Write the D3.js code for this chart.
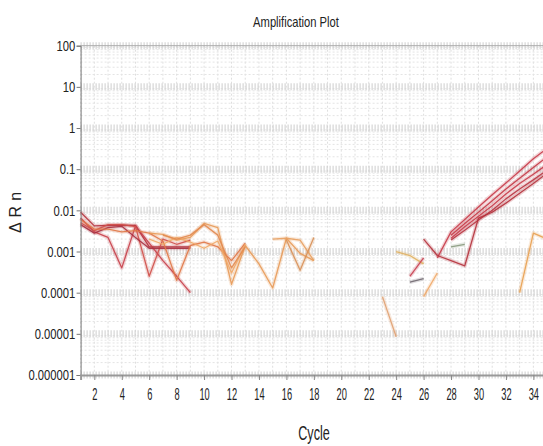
<!DOCTYPE html>
<html>
<head>
<meta charset="utf-8">
<script src="https://cdn.jsdelivr.net/npm/d3@7"></script>
<style>
body { margin: 0; background: #fff; }
svg { display: block; }
text { font-family: "Liberation Sans", Arial, sans-serif; fill: #222; }
</style>
</head>
<body>
<svg id="chart" width="543" height="446"></svg>
<script>
// values, [cycle, deltaRn]
yTicks = [100, 10, 1, 0.1, 0.01, 0.001, 0.0001, 0.00001, 0.000001];
yLabels = ["100", "10", "1", "0.1", "0.01", "0.001", "0.0001", "0.00001", "0.000001"];
xTicks = [2, 4, 6, 8, 10, 12, 14, 16, 18, 20, 22, 24, 26, 28, 30, 32, 34];

// early noisy wells
r1 = [[1, 0.009], [2, 0.0042], [3, 0.0043], [4, 0.0044], [5, 0.0043], [6, 0.0013], [7, 0.0013], [8, 0.0013], [9, 0.0013]];
r2 = [[1, 0.0065], [2, 0.003], [3, 0.0022], [4, 0.0004], [5, 0.0042], [6, 0.0016], [7, 0.0006], [8, 0.00025], [9, 0.0001]];
r3 = [[1, 0.005], [2, 0.0032], [3, 0.0045], [4, 0.0045], [5, 0.004], [6, 0.00025], [7, 0.002], [8, 0.0015], [9, 0.0019]];
r4 = [[1, 0.0045], [2, 0.0028], [3, 0.0038], [4, 0.0041], [5, 0.0022], [6, 0.0012], [7, 0.0012], [8, 0.0012], [9, 0.0012]];
o1 = [[1, 0.006], [2, 0.0035], [3, 0.0035], [4, 0.003], [5, 0.0032], [6, 0.0028], [7, 0.0018], [8, 0.0002], [9, 0.0014], [10, 0.0017], [11, 0.0013], [12, 0.0006], [13, 0.0016]];
o2 = [[6, 0.0028], [7, 0.0026], [8, 0.0019], [9, 0.0022], [10, 0.0048], [11, 0.0038], [12, 0.00016], [13, 0.0014], [14, 0.0005], [15, 0.00013], [16, 0.0021], [17, 0.0009], [18, 0.0006]];
o3 = [[6, 0.002], [7, 0.0015], [8, 0.0022], [9, 0.0017], [10, 0.0012], [11, 0.0018], [12, 0.0003], [13, 0.0015]];
o4 = [[7, 0.0025], [8, 0.002], [9, 0.0025], [10, 0.0045], [11, 0.0025], [12, 0.0004], [13, 0.0013]];
o5 = [[15, 0.002], [16, 0.0021], [17, 0.0019], [18, 0.0006]];
o6 = [[16, 0.0019], [17, 0.00035], [18, 0.0022]];

// middle fragments
m1 = [[23, 0.00008], [24, 0.0000085]];
m2 = [[24, 0.001], [25, 0.0008], [26, 0.0005]];
m3 = [[25, 0.00018], [26, 0.00022]];
m4 = [[25, 0.00025], [26, 0.0007]];
m5 = [[26, 0.00008], [27, 0.0003]];
g1 = [[28, 0.0013], [29, 0.0015]];
rt = [[33, 0.0001], [34, 0.0028], [35, 0.002]];

// amplifying wells
ampA = [[27, 0.0007], [28, 0.003], [29, 0.006], [30, 0.012], [31, 0.024], [32, 0.046], [33, 0.09], [34, 0.18], [35, 0.32]];
ampB = [[28, 0.0025], [29, 0.0048], [30, 0.009], [31, 0.017], [32, 0.033], [33, 0.06], [34, 0.11], [35, 0.2]];
ampC = [[28, 0.0021], [29, 0.004], [30, 0.0072], [31, 0.013], [32, 0.025], [33, 0.045], [34, 0.075], [35, 0.13]];
ampD = [[28, 0.0019], [29, 0.0033], [30, 0.0058], [31, 0.01], [32, 0.019], [33, 0.033], [34, 0.055], [35, 0.095]];
ampE = [[26, 0.002], [27, 0.0008], [28, 0.0006], [29, 0.00045], [30, 0.0065], [31, 0.009], [32, 0.015], [33, 0.026], [34, 0.045], [35, 0.08]];

seriesList = [r1, r2, r3, r4, o1, o2, o3, o4, o5, o6, m1, m2, m3, m4, m5, g1, rt, ampA, ampB, ampC, ampD, ampE];
seriesColours = ["#b5323c", "#c8404a", "#d0504a", "#a83040", "#e07848", "#e89a58", "#f0a868", "#e28a50", "#e8a060", "#d89058",
    "#e0a070", "#e0b060", "#706870", "#c84050", "#f0a868", "#8a9a80", "#e8a050",
    "#c83a48", "#c43845", "#c83a48", "#b83440", "#b5323c"];

svg = d3.select("#chart");

x = d3.scaleLinear().domain([1, 40]).range([80.6, 80.6 + 39 * 13.72]);
y = d3.scaleLog().domain([0.000001, 100]).range([375, 45.7]);

plotTop = 45.7;
plotBottom = 375;
plotLeft = 80.6;
plotRight = x(40);

grid = svg.append("g");
// vertical grid, one per cycle
grid.selectAll(".vg")
    .data(d3.range(1, 41))
    .enter().append("line")
    .attr("x1", (d) => x(d)).attr("x2", (d) => x(d))
    .attr("y1", plotTop).attr("y2", plotBottom)
    .attr("stroke", "#dedede")
    .attr("stroke-dasharray", "2,2");
// minor horizontal grid
minor = [];
for (var e = -6; e < 2; e++) {
    for (var m = 2; m < 10; m++) {
        minor.push(m * Math.pow(10, e));
    }
}
grid.selectAll(".hg")
    .data(minor)
    .enter().append("line")
    .attr("x1", plotLeft).attr("x2", plotRight)
    .attr("y1", (d) => y(d)).attr("y2", (d) => y(d))
    .attr("stroke", "#e4e4e4")
    .attr("stroke-dasharray", "2,2");
// major decade bands
grid.selectAll(".mg")
    .data(yTicks)
    .enter().append("line")
    .attr("x1", plotLeft).attr("x2", plotRight)
    .attr("y1", (d) => y(d)).attr("y2", (d) => y(d))
    .attr("stroke", "#cdcdcd")
    .attr("stroke-width", 7)
    .attr("stroke-dasharray", "1,2");
grid.append("line")
    .attr("x1", plotLeft).attr("x2", plotRight)
    .attr("y1", plotTop).attr("y2", plotTop)
    .attr("stroke", "#aaa");

// lines
line = d3.line()
    .x((d) => x(d[0]))
    .y((d) => y(d[1]));
lines = svg.append("g");
lines.selectAll(".halo")
    .data(seriesList)
    .enter().append("path")
    .attr("d", line)
    .attr("fill", "none")
    .attr("stroke", (d, i) => seriesColours[i])
    .attr("stroke-width", 4)
    .attr("stroke-opacity", 0.22)
    .attr("stroke-linejoin", "round");
lines.selectAll(".trace")
    .data(seriesList)
    .enter().append("path")
    .attr("d", line)
    .attr("fill", "none")
    .attr("stroke", (d, i) => seriesColours[i])
    .attr("stroke-width", 1.3)
    .attr("stroke-opacity", 0.9)
    .attr("stroke-linejoin", "round");

// axes
yAxis = svg.append("g")
    .attr("transform", "translate(" + plotLeft + ",0)")
    .call(d3.axisLeft(y).tickValues(yTicks).tickFormat((d, i) => yLabels[i]).tickSize(4).tickPadding(3));
yAxis.select(".domain").attr("stroke", "#777");
yAxis.selectAll(".tick line").attr("stroke", "#777");
yAxis.selectAll("text")
    .style("font-size", "15px")
    .style("font-family", "'Liberation Sans', Arial, sans-serif")
    .attr("fill", "#222")
    .attr("transform", "scale(0.75,1)");

xAxis = svg.append("g")
    .attr("transform", "translate(0," + plotBottom + ")")
    .call(d3.axisBottom(x).tickValues(xTicks).tickFormat(d3.format("d")).tickSize(5).tickPadding(9));
xAxis.select(".domain").attr("stroke", "#999").attr("stroke-width", 2);
xAxis.selectAll(".tick line").attr("stroke", "#888");
xAxis.selectAll("text")
    .style("font-size", "16px")
    .style("font-family", "'Liberation Sans', Arial, sans-serif")
    .attr("fill", "#333")
    .attr("transform", "scale(0.58,1)");

// titles
svg.append("text")
    .text("Amplification Plot")
    .attr("transform", "translate(296,27) scale(0.8,1)")
    .style("text-anchor", "middle")
    .style("font-size", "14px");
svg.append("text")
    .text("Cycle")
    .attr("transform", "translate(314,440) scale(0.6,1)")
    .style("text-anchor", "middle")
    .style("font-size", "21px");
svg.append("text")
    .text("ΔRn")
    .attr("transform", "translate(21,210) rotate(-90)")
    .style("text-anchor", "middle")
    .style("letter-spacing", "5px")
    .style("font-size", "16px");
</script>
</body>
</html>
